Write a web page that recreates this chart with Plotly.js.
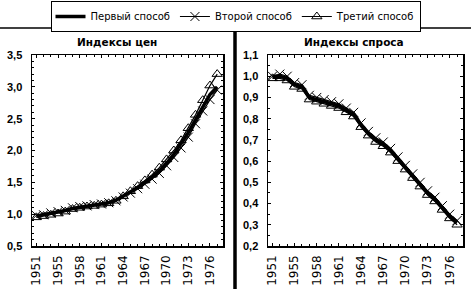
<!DOCTYPE html>
<html><head><meta charset="utf-8">
<script src="https://cdn.plot.ly/plotly-3.0.1.min.js"></script>
<style>html,body{margin:0;padding:0;background:#fff;}#chart{width:471px;height:289px;}</style>
</head><body><div id="chart"></div>
<script>
// years (one point per year), tick labels as printed on the chart
const pointIndex = [0,1,2,3,4,5,6,7,8,9,10,11,12,13,14,15,16,17,18,19,20,21,22,23,24,25];
const tickPositions = [0,3,6,9,12,15,18,21,24];
const tickLabels = ['1951','1955','1958','1961','1964','1967','1970','1973','1976'];

const seriesNames = ['Первый способ','Второй способ','Третий способ'];
const panelTitles = ['Индексы цен','Индексы спроса'];

// Индексы цен
const price1 = [0.97,0.99,1.01,1.03,1.06,1.09,1.11,1.13,1.14,1.16,1.18,1.22,1.28,1.35,1.42,1.50,1.58,1.68,1.80,1.94,2.10,2.28,2.48,2.68,2.88,3.00];
const price2 = [0.98,0.99,1.02,1.04,1.06,1.10,1.12,1.13,1.15,1.16,1.18,1.21,1.27,1.33,1.40,1.47,1.55,1.64,1.76,1.89,2.04,2.21,2.42,2.62,2.80,2.95];
const price3 = [0.95,0.97,0.99,1.01,1.04,1.08,1.10,1.12,1.13,1.15,1.17,1.21,1.28,1.36,1.44,1.53,1.62,1.73,1.86,2.00,2.16,2.35,2.56,2.79,3.02,3.20];

// Индексы спроса
const demand1 = [1.00,1.00,0.99,0.96,0.95,0.90,0.89,0.88,0.87,0.86,0.84,0.82,0.77,0.73,0.70,0.68,0.65,0.61,0.57,0.53,0.49,0.45,0.42,0.38,0.34,0.31];
const demand2 = [1.00,1.01,1.00,0.97,0.96,0.91,0.90,0.89,0.88,0.87,0.85,0.83,0.78,0.74,0.71,0.69,0.66,0.62,0.58,0.54,0.50,0.46,0.43,0.39,0.35,0.32];
const demand3 = [0.99,0.99,0.98,0.95,0.94,0.89,0.88,0.87,0.86,0.85,0.83,0.81,0.76,0.72,0.69,0.67,0.64,0.60,0.56,0.52,0.48,0.44,0.41,0.37,0.33,0.30];

const F = 'Liberation Sans, Arial, sans-serif';
const D = 'DejaVu Sans, sans-serif';
function tr(y, k, xa, ya, show){
  const base = {x: pointIndex, y: y, xaxis: xa, yaxis: ya, name: seriesNames[k], showlegend: show, legendgroup: 'g'+k};
  if(k===0) return Object.assign(base,{mode:'lines', line:{color:'#000', width:3.5}});
  if(k===1) return Object.assign(base,{mode:'lines+markers', line:{color:'#000', width:1.2}, marker:{symbol:'x-thin-open', size:9, color:'#000', line:{color:'#000', width:1}}});
  return Object.assign(base,{mode:'lines+markers', line:{color:'#000', width:1.2}, marker:{symbol:'triangle-up-open', size:9, color:'#000', line:{color:'#000', width:1}}});
}
const data = [
  tr(price1,0,'x','y',true), tr(price2,1,'x','y',true), tr(price3,2,'x','y',true),
  tr(demand1,0,'x2','y2',false), tr(demand2,1,'x2','y2',false), tr(demand3,2,'x2','y2',false)
];
const W=471,H=289;
const yDom = [(H-246)/H, (H-55)/H];
function xax(dom){
  return {domain: dom, range:[-0.6,25.8], tickmode:'array', tickvals: tickPositions, ticktext: tickLabels,
    tickangle:-90, ticks:'inside', ticklen:3, tickcolor:'#000', tickwidth:1, mirror:'allticks', showline:true, linecolor:'#000', linewidth:1.5,
    showgrid:false, zeroline:false, tickfont:{family:D, size:12, color:'#000'}, ticklabelstandoff:3,
    minor:{tickmode:'linear', tick0:0, dtick:1, ticks:'inside', ticklen:2, tickcolor:'#000'}, fixedrange:true};
}
function yax(dom, range, dtick, mdt){
  return {domain: dom, range: range, dtick: dtick, tick0: range[0], tickformat:'.1f', ticks:'inside', ticklen:3, tickcolor:'#000',
    mirror:'allticks', showline:true, linecolor:'#000', linewidth:1.5, showgrid:false, zeroline:false,
    tickfont:{family:F, size:11, color:'#000', weight:'bold'}, ticklabelstandoff:6,
    minor:{dtick: mdt, ticks:'inside', ticklen:2, tickcolor:'#000'}, fixedrange:true};
}
const layout = {
  width:W, height:H, margin:{l:0,r:0,t:0,b:0}, paper_bgcolor:'#fff', plot_bgcolor:'#fff',
  separators:', ', font:{family:D, color:'#000', size:10},
  xaxis: xax([32/W, 223/W]), yaxis: Object.assign(yax(yDom,[0.5,3.5],0.5,0.1),{anchor:'x'}),
  xaxis2: Object.assign(xax([268/W, 463/W]),{anchor:'y2'}), yaxis2: Object.assign(yax(yDom,[0.2,1.1],0.1,0.05),{anchor:'x2'}),
  showlegend:true,
  legend:{orientation:'h', x:0.5, xanchor:'center', y:1-1/H, yanchor:'top', bordercolor:'#000', borderwidth:1,
    font:{family:D, size:10, color:'#000'}, itemwidth:30, tracegroupgap:0, bgcolor:'#fff'},
  annotations:[
    {text: panelTitles[0], xref:'paper', yref:'paper', x:117/W, y:1-42/H, xanchor:'center', yanchor:'middle', showarrow:false, font:{family:D, size:10.5, weight:'bold', color:'#000'}},
    {text: panelTitles[1], xref:'paper', yref:'paper', x:354/W, y:1-42/H, xanchor:'center', yanchor:'middle', showarrow:false, font:{family:D, size:10.5, weight:'bold', color:'#000'}}
  ],
  shapes:[
    {type:'line', xref:'paper', yref:'paper', x0:0, x1:1, y0:1-28/H, y1:1-28/H, line:{color:'#000', width:1.5}},
    {type:'line', xref:'paper', yref:'paper', x0:235/W, x1:235/W, y0:0, y1:1-30/H, line:{color:'#000', width:3.5}}
  ]
};
Plotly.newPlot('chart', data, layout, {displayModeBar:false, staticPlot:true});
</script></body></html>
